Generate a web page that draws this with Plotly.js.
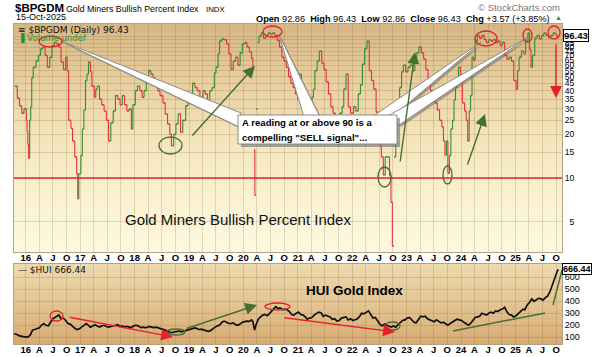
<!DOCTYPE html>
<html><head><meta charset="utf-8">
<script src="https://cdn.plot.ly/plotly-3.0.1.min.js"></script>
<style>
html,body{margin:0;padding:0;background:#fff;}
#wrap{position:relative;width:594px;height:357px;overflow:hidden;}
#bg1{position:absolute;left:14px;top:24px;width:548px;height:228px;background:linear-gradient(to bottom,#d6b684 0%,#e6cc9c 22%,#f3e3b9 48%,#faf1d0 75%,#fdf8e0 100%);}
#bg2{position:absolute;left:14px;top:264px;width:548px;height:80px;background:linear-gradient(to bottom,#eddaad 0%,#e3c592 50%,#d6aa72 100%);}
#chart{position:absolute;left:0;top:0;width:594px;height:357px;}
</style></head>
<body><div id="wrap"><div id="bg1"></div><div id="bg2"></div><div id="chart"></div></div>
<script>
// ---------------- DATA ----------------
var bpDates = [
 '2015-10-20','2015-11-05','2015-11-20','2015-12-05','2015-12-20',
 '2016-01-05','2016-01-10','2016-01-15','2016-01-20','2016-01-27','2016-02-03','2016-02-10','2016-02-20','2016-03-10','2016-03-25','2016-04-10','2016-04-25','2016-05-10','2016-05-25','2016-06-10','2016-06-25','2016-07-10','2016-07-25','2016-08-10','2016-08-25','2016-09-10','2016-09-25','2016-10-05','2016-10-15','2016-10-30','2016-11-10','2016-11-25','2016-12-08','2016-12-15','2016-12-22',
 '2017-01-05','2017-01-15','2017-01-25','2017-02-05','2017-02-15','2017-02-25','2017-03-10','2017-03-20','2017-04-05','2017-04-15','2017-04-25','2017-05-10','2017-05-25','2017-06-10','2017-06-25','2017-07-10','2017-07-25','2017-08-10','2017-08-25','2017-09-10','2017-09-25','2017-10-10','2017-10-25','2017-11-10','2017-11-25','2017-12-10','2017-12-20',
 '2018-01-05','2018-01-20','2018-02-05','2018-02-20','2018-03-05','2018-03-20','2018-04-05','2018-04-20','2018-05-05','2018-05-20','2018-06-05','2018-06-20','2018-07-10','2018-07-25','2018-08-10','2018-08-25','2018-09-05','2018-09-20','2018-10-05','2018-10-20','2018-11-05','2018-11-20','2018-12-10','2018-12-25',
 '2019-01-10','2019-01-25','2019-02-10','2019-02-25','2019-03-15','2019-04-05','2019-04-20','2019-05-05','2019-05-20','2019-06-05','2019-06-20','2019-07-01','2019-07-15','2019-07-25','2019-08-10','2019-08-25','2019-09-10','2019-09-25','2019-10-10','2019-10-25','2019-11-10','2019-11-25','2019-12-10','2019-12-25',
 '2020-01-10','2020-01-25','2020-02-10','2020-02-25','2020-03-05','2020-03-12','2020-03-18','2020-03-25','2020-04-05','2020-04-15','2020-04-30','2020-05-15','2020-05-30','2020-06-15','2020-07-01','2020-07-15','2020-07-30','2020-08-15','2020-08-30','2020-09-15','2020-09-30','2020-10-15','2020-10-30','2020-11-15','2020-11-30','2020-12-15','2020-12-30',
 '2021-01-10','2021-01-25','2021-02-10','2021-02-25','2021-03-15','2021-04-05','2021-04-15','2021-04-25','2021-05-10','2021-05-25','2021-06-10','2021-06-25','2021-07-10','2021-07-25','2021-08-10','2021-08-25','2021-09-10','2021-09-25','2021-10-10','2021-10-25','2021-11-05','2021-11-20','2021-12-05','2021-12-20',
 '2022-01-10','2022-01-25','2022-02-10','2022-02-25','2022-03-10','2022-03-25','2022-04-10','2022-04-25','2022-05-10','2022-05-25','2022-06-10','2022-06-25','2022-07-05','2022-07-15','2022-07-28','2022-08-10','2022-08-25','2022-09-08','2022-09-18','2022-09-27','2022-10-08','2022-10-20','2022-11-01','2022-11-15','2022-11-28','2022-12-10','2022-12-25',
 '2023-01-10','2023-01-25','2023-02-10','2023-02-25','2023-03-10','2023-03-25','2023-04-10','2023-04-25','2023-05-10','2023-05-25','2023-06-10','2023-06-25','2023-07-10','2023-07-25','2023-08-10','2023-08-25','2023-09-05','2023-09-15','2023-09-25','2023-10-05','2023-10-15','2023-10-25','2023-11-05','2023-11-15','2023-11-25','2023-12-05','2023-12-15','2023-12-28',
 '2024-01-10','2024-01-25','2024-02-05','2024-02-15','2024-02-25','2024-03-05','2024-03-15','2024-03-25','2024-04-05','2024-04-20','2024-05-05','2024-05-20','2024-06-05','2024-06-20','2024-07-05','2024-07-20','2024-08-05','2024-08-20','2024-09-05','2024-09-20','2024-10-05','2024-10-20','2024-11-05','2024-11-20','2024-12-05','2024-12-20',
 '2025-01-05','2025-01-15','2025-01-25','2025-02-10','2025-02-25','2025-03-10','2025-03-25','2025-04-05','2025-04-15','2025-04-25','2025-05-10','2025-05-25','2025-06-10','2025-06-25','2025-07-10','2025-07-25','2025-08-10','2025-08-25','2025-09-10','2025-09-25','2025-10-05','2025-10-15'
];
var bpValues = [
 43,35.6,31.5,28,30,
 25,21,17,13.7,25,31,49,58,64,70,78,80,70,58,68,82,86,84,80,63,56,68,55,25,22,18,14,10.7,7.2,10.7,
 14.3,21.8,29.4,47,52,63,54,43,36,41,43,35,32,29,25,18,24,29,37,35,32,37,32,29,30,21.8,32,
 40,43,40,36,40,47,55,52,49,45,40,37,33,27.6,23.6,20,16.7,20,23.6,27.6,20.7,25,31.5,38,
 38,45,42,40,36,40,38,34,40,42,53,58,72,88,91,90,84,72,56,64,68,60,73,84,
 86,80,74,67,58,15.6,7.6,30,86,95,100,92,95,100,98,100,96,89,80,68,64,58,50,45,42,38,35,
 52,40,32,28,30,36,41,55,64,75,62,56,46,38,31,28,26.5,17,28,31,41,52,31,28,
 31,29,38,44,61,78,88,55,47,41,28.5,21,17,14,10.5,14,14,10.4,6.8,3.4,14,28,33,42,54,60,54,
 58,60,55,63,73,80,73,66,56,47.5,40,36,33,29.5,25,22.6,18,14.4,18,10.8,14.3,21.8,25,34.5,42,47,58,47,
 33,29,25,18,29,37,68,65,88,96,92,96,90,86,90,88,90,86,88,82,86,70,66,68,64,47,
 41,55,68,75,72,88,100,77,58,70,92,96,91,96,100,96,93,96,100,98,92.86,96.43
];
var huiDates = [
 '2015-10-15','2015-11-01','2015-11-15','2015-12-01','2015-12-15',
 '2016-01-01','2016-01-15','2016-02-01','2016-02-15','2016-03-01','2016-03-15','2016-04-01','2016-04-15','2016-05-01','2016-05-15','2016-06-01','2016-06-15','2016-07-01','2016-07-15','2016-08-01','2016-08-10','2016-08-25','2016-09-10','2016-09-25','2016-10-10','2016-10-25','2016-11-10','2016-11-25','2016-12-10','2016-12-25',
 '2017-01-10','2017-01-25','2017-02-10','2017-02-25','2017-03-10','2017-03-25','2017-04-10','2017-04-25','2017-05-10','2017-05-25','2017-06-10','2017-06-25','2017-07-10','2017-07-25','2017-08-10','2017-08-25','2017-09-10','2017-09-25','2017-10-10','2017-10-25','2017-11-10','2017-11-25','2017-12-10','2017-12-25',
 '2018-01-10','2018-01-25','2018-02-10','2018-02-25','2018-03-10','2018-03-25','2018-04-10','2018-04-25','2018-05-10','2018-05-25','2018-06-10','2018-06-25','2018-07-10','2018-07-25','2018-08-10','2018-08-25','2018-09-10','2018-09-25','2018-10-10','2018-10-25','2018-11-10','2018-11-25','2018-12-10','2018-12-25',
 '2019-01-10','2019-01-25','2019-02-10','2019-02-25','2019-03-10','2019-03-25','2019-04-10','2019-04-25','2019-05-10','2019-05-25','2019-06-10','2019-06-25','2019-07-10','2019-07-25','2019-08-10','2019-08-25','2019-09-10','2019-09-25','2019-10-10','2019-10-25','2019-11-10','2019-11-25','2019-12-10','2019-12-25',
 '2020-01-10','2020-01-25','2020-02-10','2020-02-25','2020-03-05','2020-03-16','2020-03-25','2020-04-10','2020-04-25','2020-05-10','2020-05-25','2020-06-10','2020-06-25','2020-07-10','2020-07-25','2020-08-05','2020-08-20','2020-09-05','2020-09-20','2020-10-05','2020-10-20','2020-11-05','2020-11-20','2020-12-05','2020-12-20',
 '2021-01-05','2021-01-20','2021-02-05','2021-02-20','2021-03-05','2021-03-20','2021-04-05','2021-04-20','2021-05-05','2021-05-20','2021-06-05','2021-06-20','2021-07-05','2021-07-20','2021-08-05','2021-08-20','2021-09-05','2021-09-20','2021-10-05','2021-10-20','2021-11-05','2021-11-20','2021-12-05','2021-12-20',
 '2022-01-05','2022-01-20','2022-02-05','2022-02-20','2022-03-05','2022-03-20','2022-04-05','2022-04-20','2022-05-05','2022-05-20','2022-06-05','2022-06-20','2022-07-05','2022-07-20','2022-08-05','2022-08-20','2022-09-05','2022-09-20','2022-10-05','2022-10-20','2022-11-05','2022-11-20','2022-12-05','2022-12-20',
 '2023-01-05','2023-01-20','2023-02-05','2023-02-20','2023-03-05','2023-03-20','2023-04-05','2023-04-20','2023-05-05','2023-05-20','2023-06-05','2023-06-20','2023-07-05','2023-07-20','2023-08-05','2023-08-20','2023-09-05','2023-09-20','2023-10-05','2023-10-20','2023-11-05','2023-11-20','2023-12-05','2023-12-20',
 '2024-01-05','2024-01-20','2024-02-05','2024-02-20','2024-03-05','2024-03-20','2024-04-05','2024-04-20','2024-05-05','2024-05-20','2024-06-05','2024-06-20','2024-07-05','2024-07-20','2024-08-05','2024-08-20','2024-09-05','2024-09-20','2024-10-05','2024-10-20','2024-11-05','2024-11-20','2024-12-05','2024-12-20',
 '2025-01-05','2025-01-20','2025-02-05','2025-02-20','2025-03-05','2025-03-20','2025-04-05','2025-04-20','2025-05-05','2025-05-20','2025-06-05','2025-06-20','2025-07-05','2025-07-20','2025-08-05','2025-08-20','2025-09-05','2025-09-20','2025-10-01','2025-10-08','2025-10-15'
];
var huiValues = [
 128,125,114,108,105,
 104,102,120,160,165,175,180,200,215,200,195,225,255,265,275,286,255,260,240,215,210,190,175,165,170,
 185,200,215,200,185,195,205,195,185,195,200,190,185,190,195,205,205,190,195,185,190,185,180,195,
 200,195,180,185,180,182,190,185,180,185,180,172,165,160,148,140,138,145,150,152,145,150,155,165,
 170,172,178,172,165,168,163,155,150,155,172,185,195,200,225,235,225,215,215,220,205,200,210,225,
 230,235,232,245,230,160,200,250,270,285,290,280,300,320,345,355,340,345,330,335,330,315,290,285,300,
 310,290,285,270,250,260,265,285,300,310,305,275,285,280,270,250,255,235,240,260,265,270,245,255,
 240,245,255,275,300,295,310,320,290,260,265,235,210,195,210,200,190,185,195,185,205,225,240,245,
 260,265,245,225,220,250,275,270,275,255,245,235,230,245,235,220,225,215,200,215,225,235,250,245,
 240,225,215,200,215,240,265,270,275,300,290,285,300,310,300,320,315,330,335,350,310,290,285,270,
 280,300,320,335,330,370,390,420,400,410,425,420,410,430,445,480,540,590,620,650,666.44
];
var tickYears = [2016,2017,2018,2019,2020,2021,2022,2023,2024,2025];
var quarterMonths = ['04','07','10'];
var quarterLabels = ['A','J','O'];
var bpTicks = [5,10,15,20,25,30,35,40,45,50,55,60,65,70,75,80,85,90,95];
var huiTicks = [100,200,300,400,500,600];
var ohlcLabels = ['Open','High','Low','Close'];
var ohlcValues = [92.86,96.43,92.86,96.43];
var chgValues = [3.57,3.85];
var asOf = '15-Oct-2025';

// ---------------- BUILD ----------------
var GREEN='#2f8f2a', RED='#e8303c', OLIVE='#466f33', ARED='#e8202a';
var tickVals=[], tickText=[];
tickYears.forEach(function(y){
  tickVals.push(y+'-01-01'); tickText.push(String(y).slice(2));
  quarterMonths.forEach(function(m,k){ tickVals.push(y+'-'+m+'-01'); tickText.push(quarterLabels[k]); });
});
var gapLog = 0.35; // style: very large one-step jumps are left as gaps
function seg(){return {x:[],y:[]};}
var gH=seg(), rH=seg(), gV=seg(), rV=seg();
var prevUp=true;
for (var i=1;i<bpDates.length;i++){
  var h = prevUp?gH:rH;
  h.x.push(bpDates[i-1],bpDates[i],null); h.y.push(bpValues[i-1],bpValues[i-1],null);
  var up = bpValues[i]>=bpValues[i-1];
  if (Math.abs(Math.log10(bpValues[i]/bpValues[i-1]))<gapLog){
    var v = up?gV:rV;
    v.x.push(bpDates[i],bpDates[i],null); v.y.push(bpValues[i-1],bpValues[i],null);
  }
  prevUp=up;
}
function tr(s,color,dash,w){return {x:s.x,y:s.y,xaxis:'x',yaxis:'y',mode:'lines',line:{color:color,width:w,dash:dash},hoverinfo:'skip',connectgaps:false};}
var traces=[tr(gH,GREEN,'3px,2px',1.5),tr(rH,RED,'3px,2px',1.5),tr(gV,GREEN,'solid',1.1),tr(rV,RED,'solid',1.1),
 {x:huiDates,y:huiValues,xaxis:'x2',yaxis:'y2',mode:'lines',line:{color:'#111',width:1.7},hoverinfo:'skip'}];

function fx(p){return (p-14)/548;}
function fy(p){return (344-p)/320;}
function poly(pts){return 'M'+pts.map(function(q){return fx(q[0]).toFixed(5)+','+fy(q[1]).toFixed(5);}).join(' L')+' Z';}
function ell(x0,y0,x1,y1,c){return {type:'circle',xref:'paper',yref:'paper',x0:fx(x0),x1:fx(x1),y0:fy(y1),y1:fy(y0),line:{color:c,width:1.3}};}
function ln(x0,y0,x1,y1,c){return {type:'line',xref:'paper',yref:'paper',x0:fx(x0),x1:fx(x1),y0:fy(y0),y1:fy(y1),line:{color:c,width:1.5}};}
function arrow(tx,ty,hx,hy,c){return {xref:'paper',yref:'paper',x:fx(hx),y:fy(hy),ax:tx-hx,ay:ty-hy,text:'',showarrow:true,arrowhead:2,arrowsize:1.7,arrowwidth:1.4,arrowcolor:c,standoff:0};}
function wedge(pts){
  var out=[];
  var s=pts.map(function(q){return [q[0]+2,q[1]+2];});
  out.push({type:'path',xref:'paper',yref:'paper',path:poly(s),fillcolor:'rgba(110,110,110,0.55)',line:{width:0}});
  out.push({type:'path',xref:'paper',yref:'paper',path:poly(pts),fillcolor:'#ffffff',line:{color:'#8a8a8a',width:1}});
  return out;
}
var shapes=[{type:'line',xref:'paper',x0:0,x1:1,yref:'y',y0:10,y1:10,line:{color:'#e8242c',width:1.3}}];
shapes=shapes.concat(wedge([[61,41],[241,113],[239,127]]));
shapes=shapes.concat(wedge([[279,35],[304,117],[320,117]]));
shapes=shapes.concat(wedge([[481,42],[372,117],[392,117]]));
shapes=shapes.concat(wedge([[527,38],[386,117],[399,125]]));
shapes.push({type:'rect',xref:'paper',yref:'paper',x0:fx(241),x1:fx(400),y0:fy(147),y1:fy(118),fillcolor:'rgba(110,110,110,0.6)',line:{width:0}});
shapes.push({type:'rect',xref:'paper',yref:'paper',x0:fx(238),x1:fx(397),y0:fy(144),y1:fy(115),fillcolor:'#ffffff',line:{color:'#8a8a8a',width:1}});
[[39,36,62,47],[263,26,282,37],[475,31,497,46],[523,29,532,42],[548,26,560,39],[50,311,63,321],[265,303,290,310]].forEach(function(e){shapes.push(ell(e[0],e[1],e[2],e[3],ARED));});
[[159,137,182,154],[378,167,391,187],[443,166,452,184],[167,329,185,335],[385,322,400,330]].forEach(function(e){shapes.push(ell(e[0],e[1],e[2],e[3],OLIVE));});
shapes.push(ln(453,331,545,313,OLIVE));
shapes.push(ln(553,305,562,270,OLIVE));

var F='Liberation Sans, Arial, sans-serif';
function t(x,y,text,size,opt){var a={xref:'paper',yref:'paper',x:fx(x),y:fy(y),text:text,showarrow:false,xanchor:'left',yanchor:'middle',font:{size:size,family:F,color:'#000'}};for(var k in (opt||{})){a[k]=opt[k];}return a;}
var last=bpValues[bpValues.length-1], hLast=huiValues[huiValues.length-1];
var ohlcText=ohlcLabels.map(function(l,k){return '<b>'+l+'</b> '+ohlcValues[k].toFixed(2);}).join('\u00a0 ')+'\u00a0 <b>Chg</b> +'+chgValues[0].toFixed(2)+' (+'+chgValues[1].toFixed(2)+'%)';
var annotations=[
 t(13,8,'<b>$BPGDM</b>',11.5),
 t(64,9,'Gold Miners Bullish Percent Index',8.8),
 t(204,9,'INDX',7.8),
 t(14,17,asOf,9),
 t(562,8,'\u00a9 StockCharts.com',9.5,{xanchor:'right',font:{size:9.5,family:F,color:'#777'}}),
 t(552,18.5,ohlcText,9.2,{xanchor:'right'}),
 t(558,18,'\u25b2',7,{xanchor:'center',font:{size:7,family:F,color:GREEN}}),
 t(16,30,'\u2261 $BPGDM (Daily) '+last.toFixed(2),9,{font:{size:9,family:'DejaVu Sans',color:'#111'}}),
 t(16,38.5,'\u2590 Volume undef',8.5,{font:{size:8.5,family:'DejaVu Sans',color:GREEN}}),
 t(238,219,'Gold Miners Bullish Percent Index',15,{xanchor:'center',font:{size:15,family:F,color:'#111'}}),
 t(240,123,'<b>A reading at or above 90 is a</b>',9.6),
 t(240,137,'<b>compelling "SELL signal"...</b>',9.6),
 t(16,270,'\u2014 $HUI '+hLast.toFixed(2),9,{font:{size:9,family:'DejaVu Sans',color:'#111'}}),
 t(354,290,'<b>HUI Gold Index</b>',13.5,{xanchor:'center'}),
 {xref:'paper',yref:'y',x:1,y:Math.log10(last),xanchor:'left',yanchor:'middle',xshift:1,text:'<b>'+last.toFixed(2)+'</b>',showarrow:false,bgcolor:'#fff',bordercolor:'#000',borderwidth:1,borderpad:0,font:{size:9.5,family:F,color:'#000'}},
 {xref:'paper',yref:'y2',x:1,y:hLast,xanchor:'left',yanchor:'middle',xshift:0,text:'<b>'+hLast.toFixed(2)+'</b>',showarrow:false,bgcolor:'#fff',bordercolor:'#000',borderwidth:1,borderpad:0,font:{size:9,family:F,color:'#000'}},
 arrow(191,137,255,66,OLIVE),
 arrow(400,163,415,52,OLIVE),
 arrow(467,166,485,114,OLIVE),
 arrow(556,43,556,98,ARED),
 arrow(68,317,173,337,ARED),
 arrow(185,329,257,305,OLIVE),
 arrow(283,317.5,395,332,ARED)
];
var grid='rgba(130,100,60,0.22)', frame='#b2a184';
var xRange=['2015-10-14','2025-11-09'];
function xa(anchor){return {anchor:anchor,type:'date',range:xRange,tickmode:'array',tickvals:tickVals,ticktext:tickText,showgrid:true,gridcolor:grid,gridwidth:1,ticks:'',showline:true,mirror:true,linecolor:frame,zeroline:false,ticklabelstandoff:-3,tickfont:{size:9.5,family:F,color:'#000',weight:'bold'},fixedrange:true};}
var layout={
 width:594,height:357,margin:{l:14,r:32,t:24,b:13,pad:0},
 paper_bgcolor:'rgba(0,0,0,0)',plot_bgcolor:'rgba(0,0,0,0)',showlegend:false,
 font:{family:F,size:9,color:'#000'},
 xaxis:xa('y'),xaxis2:xa('y2'),
 yaxis:{domain:[0.2875,1],anchor:'x',type:'log',range:[0.4897,2.062],side:'right',tickmode:'array',tickvals:bpTicks,ticktext:bpTicks.map(function(v){return v<10?'\u2007'+v:String(v);}),showgrid:true,gridcolor:grid,showline:true,mirror:true,linecolor:frame,ticks:'',zeroline:false,tickfont:{size:8.5,family:F,color:'#000'}},
 yaxis2:{domain:[0,0.25],anchor:'x2',range:[44,711],side:'right',tickmode:'array',tickvals:huiTicks,showgrid:true,gridcolor:grid,showline:true,mirror:true,linecolor:frame,ticks:'',zeroline:false,tickfont:{size:9,family:F,color:'#000'}},
 shapes:shapes,annotations:annotations
};
Plotly.newPlot('chart',traces,layout,{staticPlot:true,displayModeBar:false});
</script>
</body></html>
